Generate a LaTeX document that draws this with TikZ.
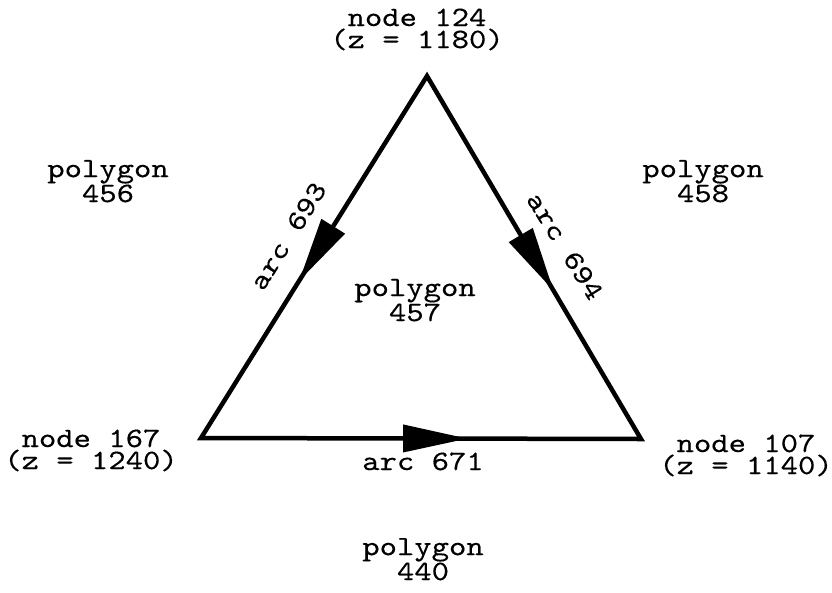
\documentclass[tikz,border=0pt]{standalone}
\usepackage{fontspec}
\setmonofont[FakeStretch=1.18,FakeBold=0.3]{lmmono10-regular.otf}
\usetikzlibrary{decorations.markings}
\tikzset{
  lbl/.style={font=\ttfamily\fontsize{28}{22}\selectfont, inner sep=0pt, align=center, anchor=base},
  rlbl/.style={font=\ttfamily\fontsize{28}{22}\selectfont, inner sep=0pt, anchor=center},
  edge/.style={line width=4.5pt, line join=miter, miter limit=20},
  headat/.style={decoration={markings, mark=at position #1 with {\fill (-64pt,-14pt) -- (0pt,0pt) -- (-64pt,14pt) -- cycle;}}, postaction={decorate}}
}
\begin{document}
\begin{tikzpicture}[x=1pt,y=-1pt]
\useasboundingbox (0,0) rectangle (832,592);
\coordinate (n124) at (427,76);
\coordinate (n167) at (201,438);
\coordinate (n107) at (641,439);
\draw[edge] (n124) -- (n167) -- (n107) -- cycle;
\path[headat=0.565] (n124) -- (n167);
\path[headat=0.59] (n124) -- (n107);
\path[headat=0.605] (n167) -- (n107);
\node[lbl] (t124) at (417,48) {node 124\\(z = 1180)};
\node[lbl] (t167) at (91,469) {node 167\\(z = 1240)};
\node[lbl] (t107) at (746,474) {node 107\\(z = 1140)};
\node[lbl] (p456) at (108,202) {polygon\\456};
\node[lbl] (p458) at (703,202) {polygon\\458};
\node[lbl] (p457) at (415,321) {polygon\\457};
\node[lbl] (p440) at (423,580) {polygon\\440};
\node[lbl] (a671) at (423,470) {arc 671};
\node[rlbl, rotate=58] (a693) at (288,236) {arc 693};
\node[rlbl, rotate=-58] (a694) at (565,246) {arc 694};
\end{tikzpicture}
\end{document}
